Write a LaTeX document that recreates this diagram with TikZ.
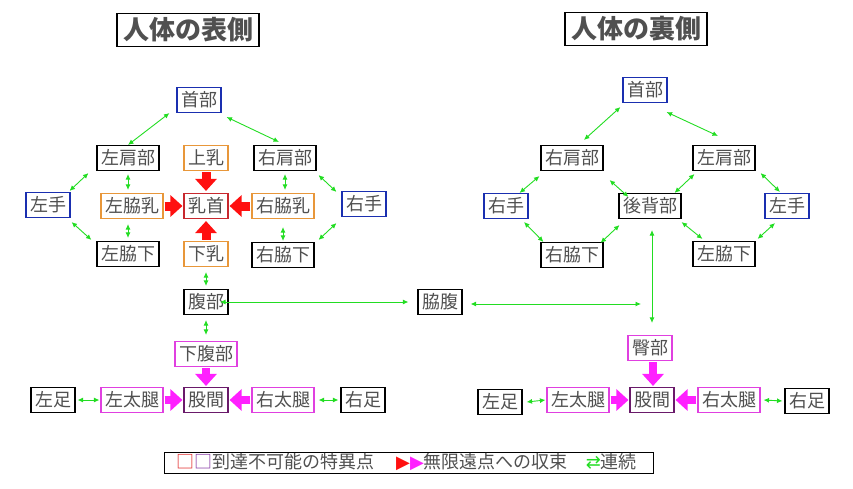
\documentclass[tikz,border=0pt]{standalone}
\usepackage{fontspec}
\newfontfamily\jp{Noto Sans CJK JP}
\newfontfamily\dv{DejaVu Sans}
\usetikzlibrary{arrows.meta,calc}
\definecolor{txt}{HTML}{505050}
\definecolor{bx}{HTML}{1A2FB0}
\definecolor{ox}{HTML}{E8973A}
\definecolor{rx}{HTML}{C8282E}
\definecolor{mx}{HTML}{E040E0}
\definecolor{px}{HTML}{6A1A6A}
\definecolor{gx}{HTML}{22DD22}
\definecolor{ra}{HTML}{FF1010}
\definecolor{ma}{HTML}{FF20FF}
\definecolor{lr}{HTML}{E02020}
\definecolor{lp}{HTML}{8030A0}
\begin{document}
\begin{tikzpicture}[x=1pt,y=-1pt,
  box/.style={draw, line width=1.1pt, fill=white, text=txt, font=\jp\fontsize{18}{18}\selectfont, inner xsep=4pt, inner ysep=0pt, minimum height=25pt},
  bbox/.style={box, draw=bx},
  obox/.style={box, draw=ox},
  rbox/.style={box, draw=rx},
  mbox/.style={box, draw=mx},
  pbox/.style={box, draw=px},
  titlebox/.style={draw, line width=1.1pt, text=txt, font=\jp\bfseries\fontsize{26}{26}\selectfont, inner xsep=6pt, inner ysep=0pt, minimum height=33pt},
  conn/.style={draw=gx, line width=0.9pt, {Latex[length=5.5pt,width=5pt]}-{Latex[length=5.5pt,width=5pt]}},
  redarr/.style={draw=ra, line width=9pt, -{Triangle[length=12pt,width=21pt]}},
  magarr/.style={draw=ma, line width=8pt, -{Triangle[length=12pt,width=21pt]}}
]
\useasboundingbox (0,0) rectangle (853,489);

% ---------- front ----------
\node[titlebox] (t1) at (188,30) {人体の表側};
\node[bbox] (lneck) at (199,100) {首部};
\node[box]  (lLsh) at (128,158) {左肩部};
\node[obox] (lup) at (206,158) {上乳};
\node[box]  (lRsh) at (285,158) {右肩部};
\node[bbox] (lLh) at (48,205) {左手};
\node[obox] (lLn) at (132,206) {左脇乳};
\node[rbox] (lnip) at (206,206) {乳首};
\node[obox] (lRn) at (283,206) {右脇乳};
\node[bbox] (lRh) at (364,204) {右手};
\node[box]  (lLa) at (128,254) {左脇下};
\node[obox] (llow) at (206,254) {下乳};
\node[box]  (lRa) at (283,255) {右脇下};
\node[box]  (lbelly) at (206,302) {腹部};
\node[box]  (waki) at (440,302) {脇腹};
\node[mbox] (llbelly) at (206,354) {下腹部};
\node[pbox] (lgroin) at (206,400) {股間};
\node[mbox] (lLth) at (132,400) {左太腿};
\node[mbox] (lRth) at (283,400) {右太腿};
\node[box]  (lLf) at (53,400) {左足};
\node[box]  (lRf) at (363,400) {右足};

\draw[conn] ($(lneck.south west)+(-7,0)$) -- (lLsh.north);
\draw[conn] ($(lneck.south east)+(5,4)$) -- ($(lRsh.north)+(-6,-3)$);
\draw[conn] ($(lLsh.south west)+(-8,2)$) -- ($(lLh.north east)+(-1,-1)$);
\draw[conn] ($(lLh.south east)+(1,4)$) -- ($(lLa.north west)+(-5,-1)$);
\draw[conn] ($(lLsh.south)+(0,3)$) -- ($(lLsh.south |- lLn.north)+(0,-3)$);
\draw[conn] ($(lLa.north |- lLn.south)+(0,5)$) -- ($(lLa.north)+(0,-3)$);
\draw[conn] ($(lRsh.south)+(0,3)$) -- ($(lRsh.south |- lRn.north)+(0,-3)$);
\draw[conn] ($(lRa.north |- lRn.south)+(0,8)$) -- ($(lRa.north)+(0,-1)$);
\draw[conn] ($(lRsh.south east)+(2,4)$) -- ($(lRh.north west)+(-5,1)$);
\draw[conn] ($(lRh.south west)+(-5,6)$) -- ($(lRa.north east)+(4,-2)$);
\draw[conn] ($(llow.south)+(0,5)$) -- ($(lbelly.north)+(0,-3)$);
\draw[conn] ($(lbelly.south)+(0,5)$) -- ($(llbelly.north)+(0,-6)$);
\draw[conn] ($(lbelly.center)+(14,0)$) -- ($(waki.west)+(-9,0)$);
\draw[conn] ($(lLf.east)+(2,0)$) -- ($(lLth.west)+(-1,0)$);
\draw[conn] ($(lRth.east)+(4,0)$) -- ($(lRf.west)+(-2,0)$);

\draw[redarr] ($(lup.south)+(0,1)$) -- ($(lnip.north)+(0,-2)$);
\draw[redarr] ($(lLn.east)+(1,0)$) -- ($(lnip.west)+(-1,0)$);
\draw[redarr] ($(lRn.west)+(-1,0)$) -- ($(lnip.east)+(1,0)$);
\draw[redarr] ($(llow.north)+(0,-1)$) -- ($(lnip.south)+(0,2)$);
\draw[magarr] ($(llbelly.south)+(0,1)$) -- ($(lgroin.north)+(0,-1)$);
\draw[magarr] ($(lLth.east)+(1,0)$) -- ($(lgroin.west)+(-1,0)$);
\draw[magarr] ($(lRth.west)+(-1,0)$) -- ($(lgroin.east)+(1,0)$);

% ---------- back ----------
\node[titlebox] (t2) at (636,29) {人体の裏側};
\node[bbox] (rneck) at (645,90) {首部};
\node[box]  (rRsh) at (572,158) {右肩部};
\node[box]  (rLsh) at (724,158) {左肩部};
\node[bbox] (rRh) at (506,206) {右手};
\node[box]  (rback) at (650,206) {後背部};
\node[bbox] (rLh) at (787,206) {左手};
\node[box]  (rRa) at (572,255) {右脇下};
\node[box]  (rLa) at (724,254) {左脇下};
\node[mbox] (rhip) at (650,348) {臀部};
\node[pbox] (rgroin) at (652,400) {股間};
\node[mbox] (rLth) at (578,400) {左太腿};
\node[mbox] (rRth) at (729,400) {右太腿};
\node[box]  (rLf) at (500,402) {左足};
\node[box]  (rRf) at (807,401) {右足};
\coordinate (junc) at (641,304);

\draw[conn] ($(rneck.south west)+(-2,4)$) -- ($(rRsh.north)+(12,-5)$);
\draw[conn] ($(rneck.south east)+(-1,9)$) -- ($(rLsh.north)+(-6,-9)$);
\draw[conn] ($(rRsh.south west)+(-1,5)$) -- ($(rRh.north east)+(-9,0)$);
\draw[conn] ($(rRsh.south east)+(6,9)$) -- ($(rback.north west)+(10,4)$);
\draw[conn] ($(rLsh.south west)+(2,3)$) -- ($(rback.north east)+(-7,0)$);
\draw[conn] ($(rLsh.south east)+(5,2)$) -- ($(rLh.north)+(-7,-1)$);
\draw[conn] ($(rRh.south)+(18,3)$) -- ($(rRa.north west)+(3,0)$);
\draw[conn] ($(rback.south west)+(1,6)$) -- ($(rRa.north east)+(-3,1)$);
\draw[conn] ($(rback.south east)+(0,3)$) -- ($(rLa.north west)+(10,-2)$);
\draw[conn] ($(rLh.south)+(-12,4)$) -- ($(rLa.north east)+(2,-2)$);
\draw[conn] ($(rback.south)+(2,11)$) -- ($(rhip.north)+(2,-12)$);
\draw[conn] ($(waki.east)+(8,2)$) -- (junc);
\draw[conn] ($(rLf.east)+(4,0)$) -- ($(rLth.west)+(-1,0)$);
\draw[conn] ($(rRth.east)+(3,0)$) -- ($(rRf.west)+(-2,0)$);

\draw[magarr] ($(rhip.south)+(3,1)$) -- ($(rhip.south |- rgroin.north)+(3,-1)$);
\draw[magarr] ($(rLth.east)+(1,0)$) -- ($(rgroin.west)+(-1,0)$);
\draw[magarr] ($(rRth.west)+(-1,0)$) -- ($(rgroin.east)+(1,0)$);

% ---------- legend ----------
\node[draw, line width=1pt, minimum width=489pt, minimum height=21pt, inner sep=0pt] (legend) at (408.5,462.5) {};
\node[anchor=west, inner sep=0pt, text=txt, font=\jp\fontsize{18}{18}\selectfont] (legtext) at (176,462.5)
  {{\color{lr}□}{\color{lp}□}到達不可能の特異点\hspace{22pt}{\dv\color{ra}▶}{\dv\color{ma}▶}無限遠点への収束\hspace{18pt}{\dv\color{gx}⇄}連続};
\end{tikzpicture}
\end{document}
